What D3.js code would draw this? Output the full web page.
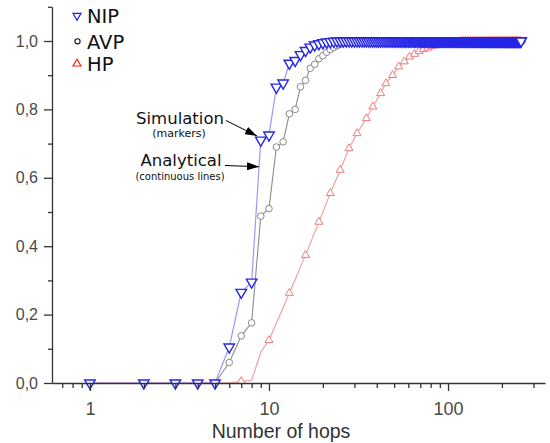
<!DOCTYPE html>
<html>
<head>
<meta charset="utf-8">
<script src="https://cdnjs.cloudflare.com/ajax/libs/d3/7.8.5/d3.min.js"></script>
<style>
  body { margin: 0; background: #fff; }
  svg { display: block; }
</style>
</head>
<body>
<svg></svg>
<script>
// NIP: one value per hop, starting at hop 1
let nipVals = [
  0, 0, 0, 0, 0, 0.105, 0.265, 0.295, 0.71, 0.725,
  0.865, 0.877, 0.935, 0.943, 0.96, 0.972, 0.982, 0.988, 0.992, 0.995,
  0.997, 0.998, 0.999,
  1,1,1,1,1, 1,1,1,1,1, 1,1,1,1,1, 1,1,1,1,1,
  1,1,1,1,1, 1,1,1,1,1, 1,1,1,1,1, 1,1,1,1,1,
  1,1,1,1,1, 1,1,1,1,1, 1,1,1,1,1, 1,1,1,1,1,
  1,1,1,1,1, 1,1,1,1,1, 1,1,1,1,1, 1,1,1,1,1,
  1,1,1,1,1, 1,1,1,1,1, 1,1,1,1,1, 1,1,1,1,1,
  1,1,1,1,1, 1,1,1,1,1, 1,1,1,1,1, 1,1,1,1,1,
  1,1,1,1,1, 1,1,1,1,1, 1,1,1,1,1, 1,1,1,1,1,
  1,1,1,1,1, 1,1,1,1,1, 1,1,1,1,1, 1,1,1,1,1,
  1,1,1,1,1, 1,1,1,1,1, 1,1,1,1,1, 1,1,1,1,1,
  1,1,1,1,1, 1,1,1,1,1, 1,1,1,1,1, 1,1,1,1,1,
  1,1,1,1,1, 1,1,1,1,1, 1,1,1,1,1, 1,1,1,1,1,
  1,1,1,1,1, 1,1,1,1,1, 1,1,1
];
let nipStart = 1;

// AVP: one value per hop, starting at hop 5
let avpVals = [
  0, 0.06, 0.138, 0.176, 0.488, 0.51, 0.69, 0.705, 0.787, 0.8,
  0.866, 0.885, 0.92, 0.932, 0.948, 0.957, 0.967, 0.975, 0.981, 0.986,
  0.99, 0.993, 0.995, 0.997, 0.998, 0.999,
  1,1,1,1,1, 1,1,1,1,1, 1,1,1,1,1, 1,1,1,1,1,
  1,1,1,1,1, 1,1,1,1,1, 1,1,1,1,1, 1,1,1,1,1,
  1,1,1,1,1, 1,1,1,1,1, 1,1,1,1,1, 1,1,1,1,1,
  1,1,1,1,1, 1,1,1,1,1, 1,1,1,1,1, 1,1,1,1,1,
  1,1,1,1,1, 1,1,1,1,1, 1,1,1,1,1, 1,1,1,1,1,
  1,1,1,1,1, 1,1,1,1,1, 1,1,1,1,1, 1,1,1,1,1,
  1,1,1,1,1, 1,1,1,1,1, 1,1,1,1,1, 1,1,1,1,1,
  1,1,1,1,1, 1,1,1,1,1, 1,1,1,1,1, 1,1,1,1,1,
  1,1,1,1,1, 1,1,1,1,1, 1,1,1,1,1, 1,1,1,1,1,
  1,1,1,1,1, 1,1,1,1,1, 1,1,1,1,1, 1,1,1,1,1,
  1,1,1,1,1, 1,1,1,1,1, 1,1,1,1,1, 1,1,1,1,1,
  1,1,1,1,1, 1,1,1,1,1
];
let avpStart = 5;

// HP: hops and values of the curve, markers on all but hpLineOnly
let hpHops = [
  1, 2, 3, 4, 5, 6, 7, 8, 9, 10,
  13, 16, 19, 22, 25, 28, 31,
  35, 38, 42, 45, 49, 53, 57, 61,
  65, 69, 73, 77, 81, 85, 89, 93, 97, 101, 105, 109, 113, 117,
  121, 125, 129, 133, 137, 141, 145, 149, 153, 157, 161, 165, 169, 173, 177, 181, 185,
  189, 193, 197, 201, 205, 209, 213, 217, 221, 225, 229, 233, 237, 241, 245, 249, 253
];
let hpVals = [
  0, 0, 0, 0, 0, 0, 0.005, 0.008, 0.09, 0.125,
  0.263, 0.374, 0.471, 0.555, 0.623, 0.686, 0.73,
  0.774, 0.808, 0.847, 0.876, 0.9, 0.925, 0.94, 0.954,
  0.962, 0.97, 0.976, 0.98, 0.984, 0.987, 0.99, 0.992, 0.994, 0.995, 0.996, 0.997, 0.998, 0.999,
  1,1,1,1,1, 1,1,1,1,1, 1,1,1,1,1, 1,1,
  1,1,1,1,1, 1,1,1,1,1, 1,1,1,1,1, 1,1
];
let hpLineOnly = [1, 2, 3, 4, 5, 6, 8, 9];

let xMajor = [1, 10, 100];
let xMinor = [0.7, 0.8, 0.9, 2, 3, 4, 5, 6, 7, 8, 9, 20, 30, 40, 50, 60, 70, 80, 90, 200, 300];
let yMajor = [0, 0.2, 0.4, 0.6, 0.8, 1.0];
let yMinor = [0.1, 0.3, 0.5, 0.7, 0.9, 1.1];
let legendNames = ['NIP', 'AVP', 'HP'];

let width = 550;
let height = 443;

let svg = d3.select('svg')
  .attr('width', width)
  .attr('height', height);

let xScale = d3.scaleLog().domain([0.614, 348]).range([52, 545]);
let yScale = d3.scaleLinear().domain([0, 1.1]).range([383, 6.8]);

let toPoints = (vals, start) => vals.map((v, i) => ({ h: start + i, v: v }));
let nipData = toPoints(nipVals, nipStart);
let avpData = toPoints(avpVals, avpStart);
let hpData = hpHops.map((h, i) => ({ h: h, v: hpVals[i] }));
let hpMarks = hpData.filter(d => hpLineOnly.indexOf(d.h) < 0);

let line = d3.line()
  .x(d => xScale(d.h))
  .y(d => yScale(d.v));

// marker shapes
let triDown = (s) => {
  let h = s * Math.sqrt(3) / 2;
  return `M${-s / 2},${-h / 3}L${s / 2},${-h / 3}L0,${2 * h / 3}Z`;
};
let triUp = (s) => {
  let h = s * Math.sqrt(3) / 2;
  return `M${-s / 2},${h / 3}L${s / 2},${h / 3}L0,${-2 * h / 3}Z`;
};

// axes
let fmtY = (d) => d3.format('.1f')(d).replace('.', ',');

let drawAxes = () => {
  let xAxis = svg.append('g')
    .attr('transform', 'translate(0,383)')
    .call(d3.axisBottom(xScale).tickValues(xMajor).tickFormat(d3.format('d')).tickSize(8).tickSizeOuter(0));
  xAxis.selectAll('text')
    .attr('y', 32).attr('dy', null)
    .style('font-family', '"Liberation Sans", Arial, sans-serif')
    .style('font-size', '18px')
    .attr('fill', '#4a4a4a');
  svg.append('g')
    .attr('transform', 'translate(0,383)')
    .call(d3.axisBottom(xScale).tickValues(xMinor).tickFormat('').tickSize(5).tickSizeOuter(0))
    .call(g => g.select('.domain').remove());

  let yAxis = svg.append('g')
    .attr('transform', 'translate(52,0)')
    .call(d3.axisLeft(yScale).tickValues(yMajor).tickFormat(fmtY).tickSize(8).tickPadding(6).tickSizeOuter(0));
  yAxis.selectAll('text')
    .style('font-family', '"Liberation Sans", Arial, sans-serif')
    .style('font-size', '16px')
    .attr('fill', '#4a4a4a');
  svg.append('g')
    .attr('transform', 'translate(52,0)')
    .call(d3.axisLeft(yScale).tickValues(yMinor).tickFormat('').tickSize(4).tickSizeOuter(0))
    .call(g => g.select('.domain').remove());

  svg.selectAll('.domain, .tick line')
    .attr('stroke', '#333')
    .attr('stroke-width', 1.3);

  svg.append('text')
    .attr('x', 281)
    .attr('y', 438)
    .attr('text-anchor', 'middle')
    .style('font-family', '"Liberation Sans", Arial, sans-serif')
    .style('font-size', '19.5px')
    .attr('fill', '#333')
    .text('Number of hops');
};

let drawSeries = () => {
  // HP
  svg.append('path')
    .datum(hpData)
    .attr('d', line)
    .attr('fill', 'none')
    .attr('stroke', '#f49a9a')
    .attr('stroke-width', 1.1);
  svg.append('g').selectAll('path')
    .data(hpMarks)
    .enter()
    .append('path')
    .attr('d', triUp(8))
    .attr('transform', d => `translate(${xScale(d.h)},${yScale(d.v)})`)
    .attr('fill', '#fff')
    .attr('stroke', '#f07a7a')
    .attr('stroke-width', 1);

  // AVP
  svg.append('path')
    .datum(avpData)
    .attr('d', line)
    .attr('fill', 'none')
    .attr('stroke', '#8c8c8c')
    .attr('stroke-width', 1.1);
  svg.append('g').selectAll('circle')
    .data(avpData.slice(1))
    .enter()
    .append('circle')
    .attr('cx', d => xScale(d.h))
    .attr('cy', d => yScale(d.v))
    .attr('r', 3.3)
    .attr('fill', '#fff')
    .attr('stroke', '#8a8a8a')
    .attr('stroke-width', 1);

  // NIP
  svg.append('path')
    .datum(nipData)
    .attr('d', line)
    .attr('fill', 'none')
    .attr('stroke', '#9a9af5')
    .attr('stroke-width', 1.2);
  svg.append('g').selectAll('path')
    .data(nipData)
    .enter()
    .append('path')
    .attr('d', triDown(10.5))
    .attr('transform', d => `translate(${xScale(d.h)},${yScale(d.v)})`)
    .attr('fill', '#fff')
    .attr('stroke', '#2626e6')
    .attr('stroke-width', 1.4);
};

let drawLegend = () => {
  let rows = [
    { y: 22.7, sym: triDown(8), color: '#1f1fff' },
    { y: 49.3, sym: null, color: '#111' },
    { y: 70.7, sym: triUp(8), color: '#ff2020' }
  ];
  let g = svg.append('g');
  rows.forEach((r, i) => {
    if (r.sym) {
      g.append('path')
        .attr('d', r.sym)
        .attr('transform', `translate(77,${r.y - 7})`)
        .attr('fill', '#fff')
        .attr('stroke', r.color)
        .attr('stroke-width', 1.2);
    } else {
      g.append('circle')
        .attr('cx', 77.5).attr('cy', r.y - 8)
        .attr('r', 2.6)
        .attr('fill', '#fff')
        .attr('stroke', r.color)
        .attr('stroke-width', 1.1);
    }
    g.append('text')
      .attr('x', 87)
      .attr('y', r.y)
      .style('font-family', '"DejaVu Sans", sans-serif')
      .style('font-size', '19.5px')
      .attr('fill', '#111')
      .text(legendNames[i]);
  });
};

let drawNotes = () => {
  svg.append('defs').append('marker')
    .attr('id', 'head')
    .attr('viewBox', '0 0 12 8')
    .attr('refX', 12).attr('refY', 4)
    .attr('markerWidth', 12).attr('markerHeight', 8)
    .attr('markerUnits', 'userSpaceOnUse')
    .attr('orient', 'auto')
    .append('path')
    .attr('d', 'M0,0L12,4L0,8Z')
    .attr('fill', '#000');

  let notes = [
    { text: 'Simulation', sub: '(markers)', x: 180, y: 124, subSize: 11, subDy: 13, from: [226, 120.5], to: [257, 136] },
    { text: 'Analytical', sub: '(continuous lines)', x: 181, y: 166, subSize: 10, subDy: 14, from: [225, 165.5], to: [259, 166.7] }
  ];
  notes.forEach(n => {
    svg.append('text')
      .attr('x', n.x).attr('y', n.y)
      .attr('text-anchor', 'middle')
      .style('font-family', '"DejaVu Sans", sans-serif')
      .style('font-size', '16.5px')
      .attr('fill', '#111')
      .text(n.text);
    svg.append('text')
      .attr('x', n.x - 1).attr('y', n.y + n.subDy)
      .attr('text-anchor', 'middle')
      .style('font-family', '"DejaVu Sans", sans-serif')
      .style('font-size', n.subSize + 'px')
      .attr('fill', '#111')
      .text(n.sub);
    svg.append('line')
      .attr('x1', n.from[0]).attr('y1', n.from[1])
      .attr('x2', n.to[0]).attr('y2', n.to[1])
      .attr('stroke', '#000')
      .attr('stroke-width', 1)
      .attr('marker-end', 'url(#head)');
  });
};

drawSeries();
drawAxes();
drawLegend();
drawNotes();
</script>
</body>
</html>
